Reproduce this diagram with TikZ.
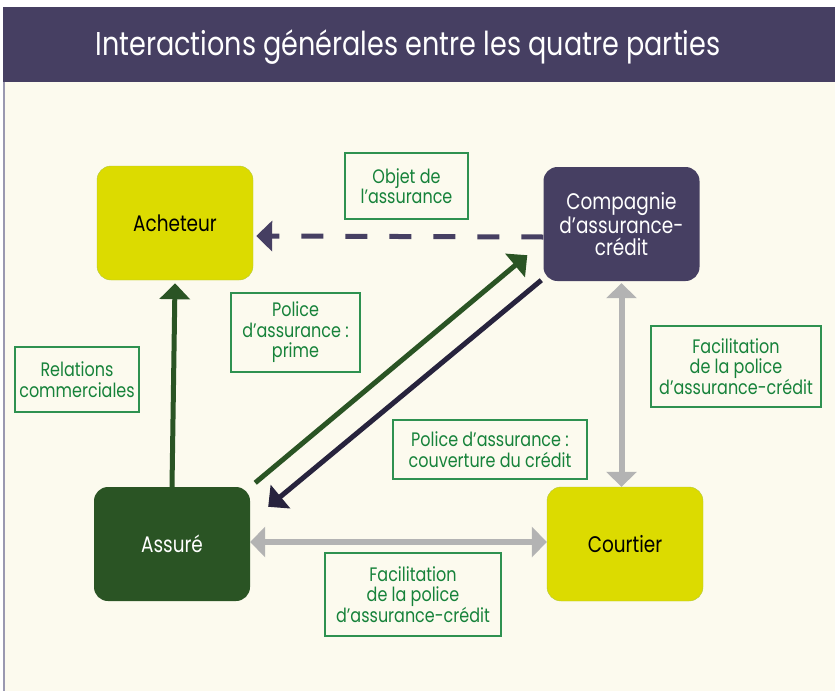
\documentclass[tikz,border=0pt]{standalone}
\usepackage{fontspec}
\setmainfont{Poppins}[FakeStretch=0.82]
\usetikzlibrary{arrows.meta,calc,positioning}
\pgfdeclarelayer{bg}
\pgfsetlayers{bg,main}
\definecolor{band}{RGB}{70,63,98}
\definecolor{cream}{RGB}{252,250,238}
\definecolor{jaune}{RGB}{220,219,0}
\definecolor{jauneborder}{RGB}{180,200,60}
\definecolor{vert}{RGB}{42,84,36}
\definecolor{nuit}{RGB}{39,35,61}
\definecolor{gris}{RGB}{179,179,179}
\definecolor{texte}{RGB}{22,130,58}
\definecolor{cadre}{RGB}{46,145,80}
\definecolor{bord}{RGB}{154,152,176}

\begin{document}
\begin{tikzpicture}[x=1pt,y=-1pt]
  \tikzstyle{Partie}=[rounded corners=14pt,minimum width=156pt,minimum height=114pt,
    align=center,font=\fontsize{22.5}{21.5}\selectfont]
  \tikzstyle{Etiquette}=[draw=cadre,line width=1.3pt,fill=cream,align=center,inner sep=0pt,
    text=texte,font=\fontsize{19.5}{20.5}\selectfont]
  \tikzstyle{Fleche}=[line width=5pt,-{Triangle[length=16pt,width=30pt]}]
  \tikzstyle{Double}=[gris,line width=6pt,{Triangle[length=15pt,width=30pt]}-{Triangle[length=15pt,width=30pt]}]
  \useasboundingbox (0,0) rectangle (835,691);
  % background and title band
  \begin{pgfonlayer}{bg}
    \fill[cream] (3,82) rectangle (835,691);
    \fill[band] (3,7) rectangle (835,82);
    \draw[bord,line width=2pt] (4,82) -- (4,691);
  \end{pgfonlayer}
  \node[text=white,font=\fontsize{33}{33}\selectfont] (titre) at (408,47) {Interactions générales entre les quatre parties};
  % the four parties
  \node[Partie,fill=jaune,draw=jauneborder] (acheteur) at (175,223) {Acheteur};
  \node[Partie,fill=band,text=white] (compagnie) at (621.5,224) {Compagnie\\d’assurance-\\crédit};
  \node[Partie,fill=vert,text=white] (assure) at (172,544) {Assuré};
  \node[Partie,fill=jaune,draw=jauneborder] (courtier) at (625,544) {Courtier};
  % labels
  \node[Etiquette,minimum width=123pt,minimum height=66pt] (objet) at (406.5,186) {Objet de\\l’assurance};
  \node[Etiquette,minimum width=129pt,minimum height=79pt] (prime) at (295.5,332.5) {Police\\d’assurance :\\prime};
  \node[Etiquette,minimum width=124pt,minimum height=65pt] (relations) at (77,379.5) {Relations\\commerciales};
  \node[Etiquette,minimum width=194pt,minimum height=59pt] (couverture) at (490,449.5) {Police d’assurance :\\couverture du crédit};
  \node[Etiquette,minimum width=170pt,minimum height=81pt] (facil1) at (736,366.5) {Facilitation\\de la police\\d’assurance-crédit};
  \node[Etiquette,minimum width=176pt,minimum height=83pt] (facil2) at (413,594.5) {Facilitation\\de la police\\d’assurance-crédit};
  % connectors
  \draw[Fleche,band,dash pattern=on 22pt off 22pt] ($(compagnie.west)+(0,13)$) -- ($(acheteur.east)+(3,13)$);
  \draw[Fleche,vert] (assure.north) -- ($(acheteur.south)+(0,3)$);
  \draw[Fleche,vert] ($(assure.north east)+(5,-4)$) -- ($(compagnie.south west)+(-16,-26)$);
  \draw[Fleche,nuit] ($(compagnie.south west)+(-2,-1)$) -- ($(assure.north east)+(18,20)$);
  \draw[Double] ($(compagnie.south)+(0,2)$) -- (compagnie.south |- courtier.north);
  \draw[Double] ($(assure.east)+(0,-2)$) -- ($(courtier.west)+(0,-2)$);
\end{tikzpicture}
\end{document}
